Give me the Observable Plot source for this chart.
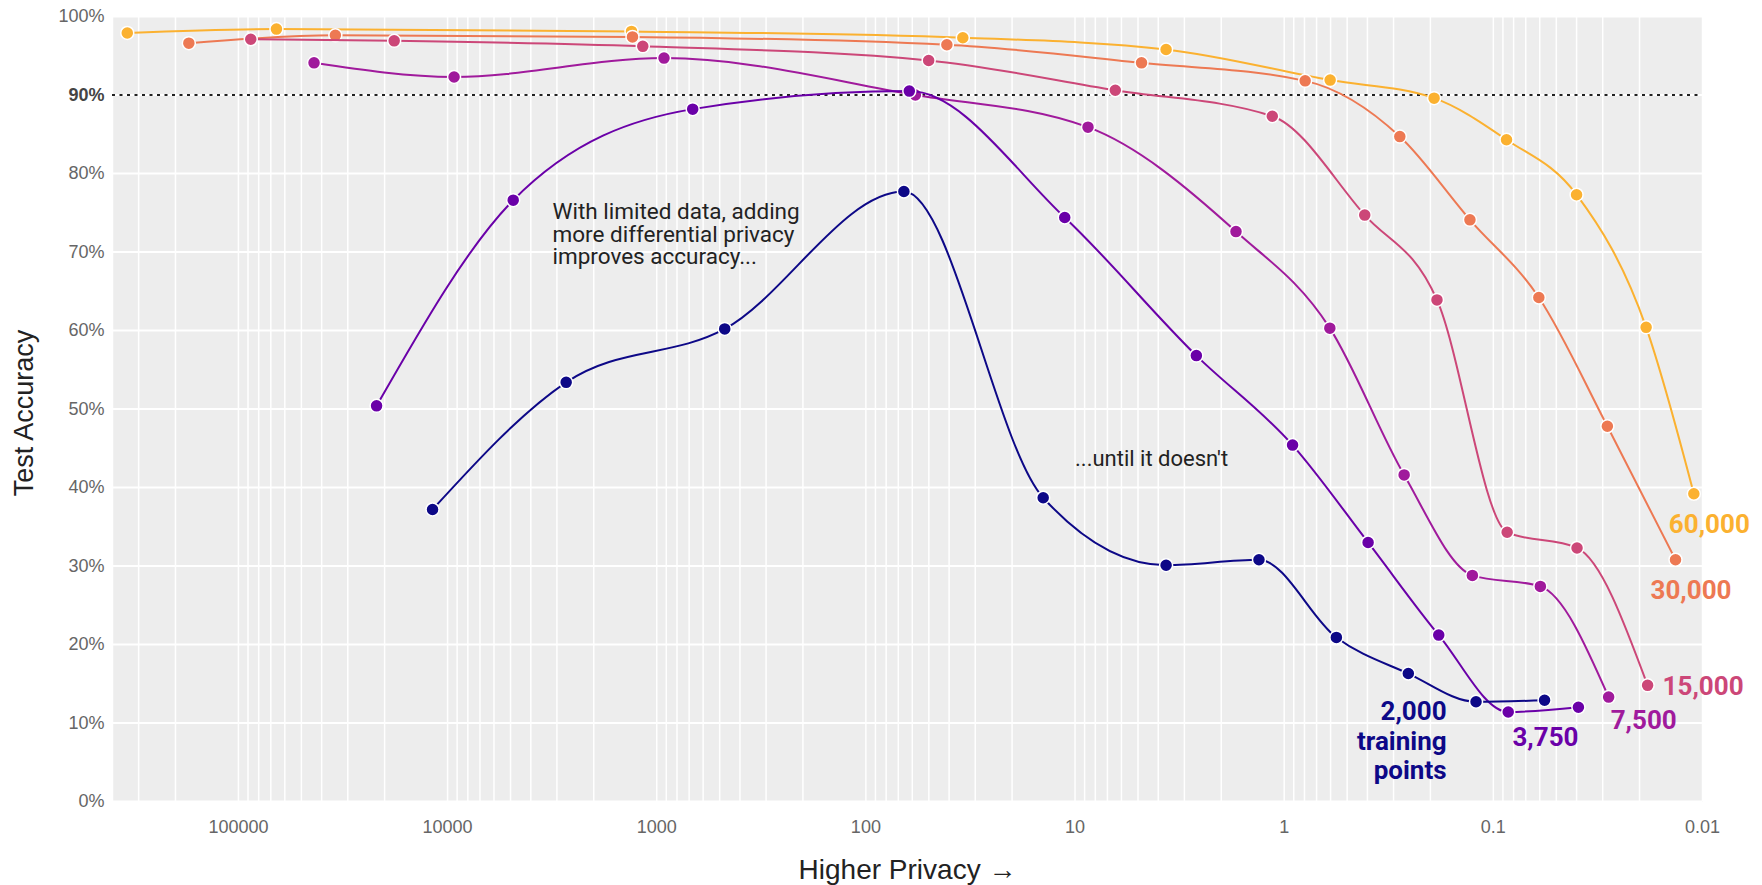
<!DOCTYPE html>
<html>
<head>
<meta charset="utf-8">
<script src="https://cdn.jsdelivr.net/npm/d3@7"></script>
<script src="https://cdn.jsdelivr.net/npm/@observablehq/plot@0.6"></script>
<style>
  html, body { margin: 0; padding: 0; background: #ffffff; }
  #chart svg { display: block; }
</style>
</head>
<body>
<div id="chart"></div>
<script>
// ---- Data ----
const seriesNames = ["60,000", "30,000", "15,000", "7,500", "3,750", "2,000"];

const eps60000 = [340000, 65800, 1320, 34.4, 3.67, 0.603, 0.192, 0.0865, 0.040, 0.0186, 0.011];
const acc60000 = [97.9, 98.4, 98.1, 97.3, 95.8, 91.9, 89.6, 84.3, 77.3, 60.4, 39.2];

const eps30000 = [172600, 34400, 1306, 41.0, 4.81, 0.794, 0.280, 0.1294, 0.0606, 0.0285, 0.01346];
const acc30000 = [96.6, 97.6, 97.4, 96.4, 94.1, 91.8, 84.7, 74.1, 64.2, 47.8, 30.8];

const eps15000 = [87300, 18000, 1166, 50.1, 6.42, 1.14, 0.412, 0.186, 0.0859, 0.0398, 0.0183];
const acc15000 = [97.1, 96.9, 96.2, 94.4, 90.6, 87.3, 74.7, 63.9, 34.3, 32.3, 14.8];

const eps7500 = [43500, 9310, 923, 58.0, 8.67, 1.70, 0.605, 0.267, 0.126, 0.0596, 0.0281];
const acc7500 = [94.1, 92.3, 94.7, 90.0, 85.9, 72.6, 60.3, 41.6, 28.8, 27.4, 13.3];

const eps3750 = [21850, 4855, 673, 62.0, 11.2, 2.63, 0.912, 0.397, 0.1824, 0.0849, 0.0392];
const acc3750 = [50.4, 76.6, 88.2, 90.5, 74.4, 56.8, 45.4, 33.0, 21.2, 11.4, 12.0];

const eps2000 = [11800, 2710, 473, 65.8, 14.2, 3.67, 1.32, 0.563, 0.255, 0.121, 0.0569];
const acc2000 = [37.2, 53.4, 60.2, 77.7, 38.7, 30.1, 30.8, 20.9, 16.3, 12.7, 12.9];

const xTicks = [100000, 10000, 1000, 100, 10, 1, 0.1, 0.01];
const yTicks = [0, 10, 20, 30, 40, 50, 60, 70, 80, 90, 100];
const threshold = [90];

const seriesLabels = {
  "60,000": "60,000",
  "30,000": "30,000",
  "15,000": "15,000",
  "7,500": "7,500",
  "3,750": "3,750",
  "2,000": "2,000\ntraining\npoints"
};

const noteLeft = "With limited data, adding\nmore differential privacy\nimproves accuracy...";
const noteRight = "...until it doesn't";
const noteLeftAt = {eps: 3150, acc: 72.2};
const noteRightAt = {eps: 10, acc: 43.6};

// ---- Build table ----
const epsBy = {"60,000": eps60000, "30,000": eps30000, "15,000": eps15000, "7,500": eps7500, "3,750": eps3750, "2,000": eps2000};
const accBy = {"60,000": acc60000, "30,000": acc30000, "15,000": acc15000, "7,500": acc7500, "3,750": acc3750, "2,000": acc2000};
const rows = seriesNames.flatMap(name => epsBy[name].map((e, i) => ({series: name, eps: e, acc: accBy[name][i]})));

// ---- Styles ----
const colors = ["#fbb130", "#ed7953", "#cc4778", "#a01a9c", "#6a00a8", "#0d0887"];
const labelStyle = {
  "60,000": {dx: -25, dy: 30, textAnchor: "start"},
  "30,000": {dx: -25, dy: 30, textAnchor: "start"},
  "15,000": {dx: 15, dy: 0, textAnchor: "start"},
  "7,500": {dx: 2, dy: 23, textAnchor: "start"},
  "3,750": {dx: -66, dy: 29, textAnchor: "start"},
  "2,000": {dx: -98, dy: 40, textAnchor: "end"}
};

const gridX = d3.range(-2, 6).flatMap(k => d3.range(1, 10).map(m => +(m * Math.pow(10, k)).toPrecision(3))).filter(v => v <= 400000);

const seriesMarks = seriesNames.flatMap(name => {
  const data = rows.filter(d => d.series === name);
  const last = data[data.length - 1];
  const ls = labelStyle[name];
  return [
    Plot.line(data, {x: "eps", y: "acc", stroke: "series", strokeWidth: 2, curve: "monotone-x"}),
    Plot.dot(data, {x: "eps", y: "acc", fill: "series", stroke: "white", strokeWidth: 1.5, r: 6.5}),
    Plot.text([last], {x: "eps", y: "acc", text: d => seriesLabels[d.series], fill: "series",
      dx: ls.dx, dy: ls.dy, textAnchor: ls.textAnchor, lineAnchor: "middle", lineHeight: 1.12,
      fontSize: 26, fontWeight: 700, fontFamily: "Roboto"})
  ];
});

const chart = Plot.plot({
  width: 1762,
  height: 885,
  marginLeft: 112,
  marginRight: 60,
  marginTop: 16,
  marginBottom: 84,
  style: {fontFamily: "'Liberation Sans', Arial, sans-serif", background: "#ffffff"},
  x: {type: "log", domain: [400000, 0.01], axis: null},
  y: {domain: [0, 100], axis: null},
  color: {domain: seriesNames, range: colors},
  marks: [
    Plot.frame({fill: "#ededed", stroke: null}),
    Plot.ruleX(gridX, {stroke: "#ffffff", strokeWidth: 1.5}),
    Plot.ruleY(yTicks, {stroke: "#ffffff", strokeWidth: 2}),
    Plot.ruleY(threshold, {stroke: "#222222", strokeWidth: 2.2, strokeDasharray: "3,4.5"}),
    Plot.axisX({ticks: xTicks, tickFormat: d => String(d), tickSize: 0, tickPadding: 19, fontSize: 18, fill: "#666666", label: null}),
    Plot.axisY({ticks: yTicks.filter(d => d !== 90), tickFormat: d => d + "%", tickSize: 0, tickPadding: 8, fontSize: 18, fill: "#666666", label: null}),
    Plot.axisY({ticks: threshold, tickFormat: d => d + "%", tickSize: 0, tickPadding: 8, fontSize: 18, fill: "#444444", fontWeight: 700, label: null}),
    Plot.text(["Higher Privacy →"], {frameAnchor: "bottom", textAnchor: "middle", dy: 77, fontSize: 28, fill: "#222222"}),
    Plot.text(["Test Accuracy"], {y: () => 49.5, frameAnchor: "left", textAnchor: "middle", rotate: -90, dx: -88, fontSize: 27, fill: "#222222"}),
    ...seriesMarks,
    Plot.text([noteLeft], {x: () => noteLeftAt.eps, y: () => noteLeftAt.acc, textAnchor: "start", lineAnchor: "middle", lineHeight: 1.0, fontSize: 22.5, fill: "#222222", fontFamily: "Roboto"}),
    Plot.text([noteRight], {x: () => noteRightAt.eps, y: () => noteRightAt.acc, textAnchor: "start", fontSize: 22, fill: "#222222", fontFamily: "Roboto"})
  ]
});

document.getElementById("chart").appendChild(chart);
</script>
</body>
</html>
